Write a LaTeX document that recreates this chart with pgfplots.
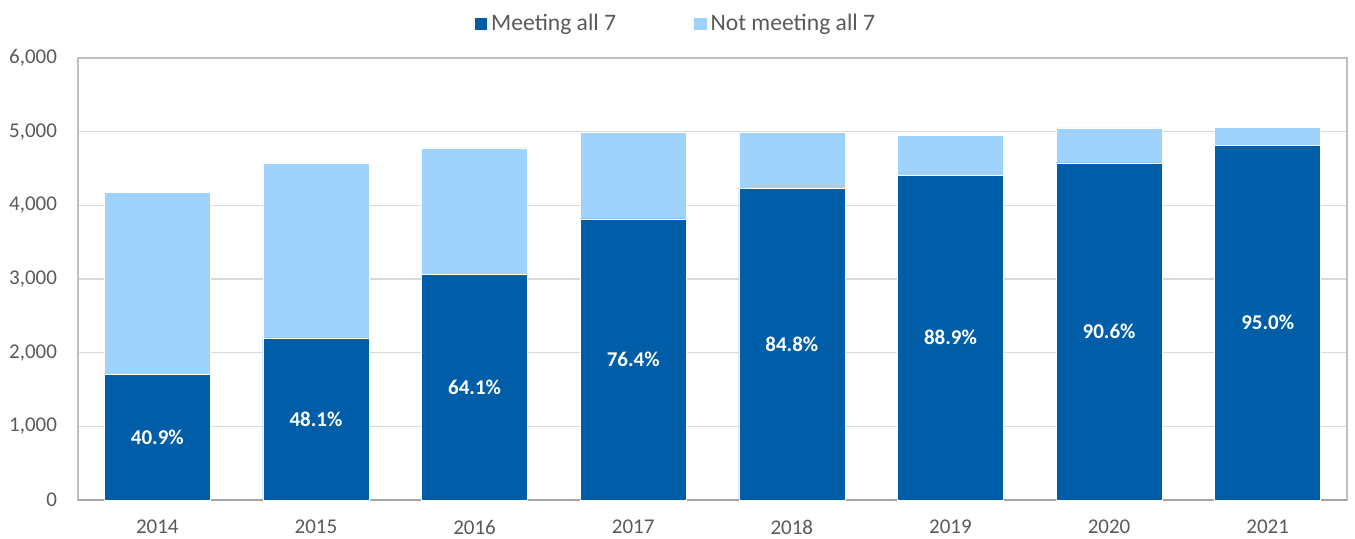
\documentclass[border=0pt]{standalone}
\usepackage{pgfplots}
\pgfplotsset{compat=1.18}
\usepackage{fontspec}
\setmainfont{Carlito}
\definecolor{darkb}{HTML}{005EA8}
\definecolor{lightb}{HTML}{A0D3FB}
\definecolor{txt}{HTML}{595959}
\definecolor{gridc}{HTML}{D9D9D9}
\definecolor{framec}{HTML}{C0C0C0}
\definecolor{basec}{HTML}{A6A6A6}
\tikzset{pct/.style={text=white, font=\bfseries\fontsize{10.5pt}{12pt}\selectfont}}
\begin{document}
\begin{tikzpicture}
\path[use as bounding box] (-39pt,-19pt) rectangle (638.5pt,250pt);
\begin{axis}[
  at={(0,0)}, anchor=south west,
  scale only axis, width=634.5pt, height=221pt,
  ybar stacked, bar width=53pt,
  xmin=-0.5, xmax=7.5, ymin=0, ymax=6000,
  xtick={0,1,2,3,4,5,6,7},
  xticklabels={2014,2015,2016,2017,2018,2019,2020,2021},
  ytick={0,1000,2000,3000,4000,5000,6000},
  scaled y ticks=false,
  /pgf/number format/assume math mode=true,
  yticklabel style={/pgf/number format/1000 sep={,}, xshift=-7pt},
  xticklabel style={yshift=-6.5pt},
  ymajorgrids, grid style={gridc, line width=0.75pt},
  axis line style={framec, line width=0.75pt},
  tick style={draw=none},
  ticklabel style={text=txt, font=\fontsize{10.5pt}{12pt}\selectfont},
  legend style={at={(0.472,1.077)}, anchor=center, draw=none, fill=none,
    legend columns=2, text=txt, font=\fontsize{11.8pt}{13pt}\selectfont,
    /tikz/every even column/.append style={column sep=37pt}},
  legend image code/.code={\fill[#1,draw=none] (0pt,-3.1pt) rectangle (6.2pt,3.1pt);},
]
\addplot[fill=darkb, draw=white, line width=0.3pt,
  nodes near coords, point meta=explicit symbolic,
  every node near coord/.append style={pct, anchor=center}]
  table[x=x, y=y, meta=lab] {
x y lab
0 1710 40.9\%
1 2200 48.1\%
2 3065 64.1\%
3 3815 76.4\%
4 4235 84.8\%
5 4405 88.9\%
6 4575 90.6\%
7 4810 95.0\%
};
\addplot[fill=lightb, draw=white, line width=0.3pt] coordinates {
 (0,2470) (1,2375) (2,1715) (3,1180) (4,760) (5,550) (6,475) (7,253)};
\legend{Meeting all 7, Not meeting all 7}
\draw[basec, line width=0.75pt] (rel axis cs:0,0) -- (rel axis cs:1,0);
\end{axis}
\end{tikzpicture}
\end{document}
